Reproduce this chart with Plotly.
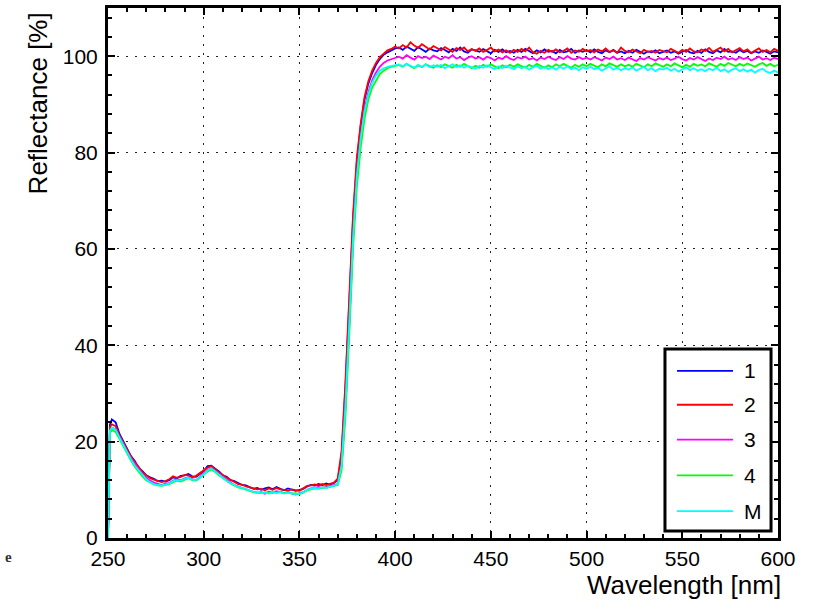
import plotly.graph_objects as go

# Wavelength grid [nm]
wavelength = [250, 251] + list(range(252, 601, 2))

series_names = ["1", "2", "3", "4", "M"]
series_colors = ["#0000ff", "#ff0000", "#ff00ff", "#00ff00", "#00ffff"]

# Reflectance [%] of each sample
refl_1 = [
    0, 23.5,
    24.6, 24.0, 21.6, 20.0, 18.6, 17.0, 16.0, 14.6, 13.9, 13.0,
    12.6, 12.3, 11.8, 11.9, 11.7, 12.0, 12.6, 12.4, 12.9, 13.0,
    13.3, 12.8, 12.7, 13.4, 13.9, 14.9, 15.0, 14.4, 13.8, 13.0,
    12.7, 12.0, 11.8, 11.4, 11.0, 10.9, 10.6, 10.2, 10.4, 10.0,
    10.3, 10.5, 10.1, 10.6, 10.2, 9.9, 10.3, 10.0, 9.8, 10.0,
    10.2, 10.7, 11.0, 10.9, 11.2, 11.0, 11.3, 11.1, 11.4, 12.0,
    17, 31, 49, 66, 78, 85.5, 91, 94.3, 96.5, 98.2, 99.4, 100.3, 100.8, 101.2, 101.6,
    101.8, 101.3, 102.0, 101.5, 101.1, 101.9, 101.4, 100.9, 101.6, 101.2,
    101.0, 101.7, 101.3, 100.8, 101.5, 101.1, 101.8, 101.0, 100.7, 101.4,
    101.2, 100.9, 101.5, 101.0, 100.6, 101.3, 100.9, 101.4, 100.8, 101.1,
    100.7, 101.3, 100.9, 101.5, 101.0, 100.6, 101.2, 100.8, 101.4, 100.9,
    101.1, 100.6, 101.3, 100.8, 101.0, 101.5, 100.7, 101.2, 100.9, 101.3,
    100.8, 101.4, 100.9, 100.6, 101.2, 100.8, 101.3, 100.7, 101.0, 100.6,
    101.1, 100.7, 101.3, 100.9, 100.5, 101.0, 100.8, 101.2, 100.6, 100.9,
    101.2, 100.7, 101.0, 100.5, 100.9, 101.3, 100.8, 100.6, 101.1, 100.7,
    101.4, 100.9, 100.6, 101.2, 100.8, 101.5, 100.9, 101.0, 100.7, 101.3,
    100.8, 101.1, 100.6, 101.0, 100.7, 101.2, 100.9, 100.5, 101.0, 100.8,
]

refl_2 = [
    0, 23.0,
    23.6, 23.2, 21.3, 19.8, 18.3, 16.9, 15.7, 14.8, 13.6, 12.9,
    12.4, 12.1, 11.9, 11.6, 11.8, 12.2, 12.8, 12.5, 12.7, 13.1,
    13.0, 12.6, 12.9, 13.5, 14.0, 14.6, 14.9, 14.2, 13.6, 13.1,
    12.5, 12.1, 11.6, 11.2, 11.1, 10.7, 10.5, 10.3, 10.1, 10.2,
    9.9, 10.3, 10.0, 10.4, 10.1, 10.0, 9.8, 10.1, 9.9, 9.8,
    10.3, 10.8, 10.9, 11.1, 10.9, 11.2, 11.0, 11.2, 11.5, 12.3,
    18, 32, 50, 67, 79, 86, 91.5, 94.8, 97, 98.6, 99.8, 100.6, 101.2, 101.5, 102.0,
    101.6, 102.3, 101.8, 102.9, 102.2, 101.7, 102.5, 101.9, 101.4, 102.1,
    101.6, 101.2, 101.9, 101.4, 100.9, 101.7, 101.3, 101.8, 101.0, 101.5,
    101.1, 101.6, 100.9, 101.3, 101.8, 101.0, 101.4, 100.8, 101.2, 100.7,
    101.3, 100.9, 101.5, 101.0, 101.8, 100.8, 100.5, 101.1, 100.7, 101.3,
    100.9, 101.4, 100.8, 101.1, 101.6, 100.7, 101.2, 100.9, 101.5, 101.0,
    101.3, 100.8, 101.4, 101.0, 101.6, 100.9, 101.2, 100.7, 101.8, 101.1,
    100.8, 101.4, 101.0, 100.6, 101.3, 100.9, 101.1, 100.7, 101.3, 101.0,
    100.8, 101.5, 101.1, 100.7, 101.3, 100.9, 101.6, 101.0, 100.8, 101.4,
    101.1, 101.7, 100.9, 101.3, 101.8, 101.0, 101.5, 100.8, 101.2, 101.7,
    101.0, 101.4, 100.7, 101.2, 101.6, 100.9, 101.3, 100.8, 101.5, 101.1,
]

refl_3 = [
    0, 22.0,
    22.8, 22.6, 21.0, 19.3, 17.9, 16.5, 15.3, 14.3, 13.2, 12.5,
    11.9, 11.5, 11.2, 11.0, 11.3, 11.4, 11.9, 12.1, 12.0, 12.4,
    12.6, 12.2, 12.0, 12.7, 13.3, 14.1, 14.5, 13.9, 13.3, 12.6,
    12.0, 11.5, 11.0, 10.7, 10.5, 10.1, 9.9, 9.6, 9.4, 9.5,
    9.2, 9.6, 9.4, 9.7, 9.5, 9.3, 9.5, 9.2, 9.0, 9.3,
    9.5, 10.0, 10.3, 10.4, 10.6, 10.4, 10.6, 10.7, 10.9, 11.2,
    15, 27, 44, 62, 75, 83, 89, 92.5, 95, 96.6, 97.8, 98.6, 99.1, 99.4, 99.6,
    99.9, 99.5, 100.2, 99.7, 99.3, 100.0, 99.6, 99.9, 99.4, 100.1,
    99.7, 99.3, 99.9, 99.6, 100.2, 99.5, 99.8, 99.2, 99.7, 100.0,
    99.5, 99.8, 99.3, 99.9, 99.6, 99.1, 99.7, 99.4, 100.0, 99.5,
    99.2, 99.8, 99.5, 99.9, 99.3, 99.6, 99.1, 99.7, 99.4, 99.9,
    99.5, 99.2, 99.8, 99.4, 100.0, 99.5, 99.3, 99.8, 99.4, 99.7,
    99.3, 99.8, 99.5, 99.1, 99.7, 99.4, 99.9, 99.3, 99.6, 99.2,
    99.7, 99.4, 99.0, 99.6, 99.3, 99.8, 99.5, 99.1, 99.6, 99.3,
    99.7, 99.2, 99.5, 99.9, 99.4, 99.1, 99.6, 99.3, 99.8, 99.4,
    99.0, 99.5, 99.2, 99.7, 99.4, 99.9, 99.3, 99.6, 99.2, 99.8,
    99.4, 99.7, 99.1, 99.5, 99.9, 99.3, 99.6, 99.2, 99.7, 99.4,
]

refl_4 = [
    0, 21.8,
    22.4, 22.0, 20.6, 19.0, 17.4, 16.1, 14.8, 13.7, 12.8, 12.0,
    11.5, 11.1, 10.9, 10.8, 11.0, 11.2, 11.6, 11.9, 11.7, 12.1,
    12.4, 12.0, 11.9, 12.5, 13.1, 13.8, 14.2, 13.7, 13.0, 12.4,
    11.8, 11.3, 10.9, 10.5, 10.3, 10.0, 9.8, 9.5, 9.4, 9.3,
    9.5, 9.3, 9.6, 9.4, 9.6, 9.3, 9.4, 9.2, 9.3, 9.1,
    9.4, 9.9, 10.1, 10.3, 10.2, 10.5, 10.4, 10.6, 10.7, 11.0,
    14, 25, 42, 60, 73, 81, 87, 91, 93.5, 95, 96.3, 97, 97.5, 97.8, 98.0,
    98.2, 97.8, 98.4, 97.9, 97.5, 98.1, 97.7, 98.3, 97.9, 97.6,
    98.1, 97.7, 98.3, 98.0, 97.6, 98.2, 97.8, 98.4, 97.9, 97.5,
    98.0, 97.6, 98.2, 97.8, 98.3, 97.9, 97.5, 98.1, 97.7, 98.2,
    97.8, 98.3, 97.9, 97.6, 98.2, 97.8, 98.4, 98.0, 97.6, 98.1,
    97.7, 98.3, 97.9, 98.4, 98.0, 97.6, 98.2, 97.8, 98.3, 97.9,
    98.4, 98.0, 97.7, 98.3, 97.9, 98.5, 98.1, 97.8, 98.3, 97.9,
    98.2, 97.8, 98.4, 98.0, 97.7, 98.3, 97.9, 98.5, 98.1, 97.8,
    98.3, 97.9, 98.5, 98.1, 97.7, 98.2, 97.8, 98.4, 98.0, 98.3,
    97.9, 98.5, 98.1, 97.8, 98.4, 98.0, 98.6, 98.2, 97.9, 98.4,
    98.0, 98.5, 98.1, 97.8, 98.3, 98.6, 98.0, 98.4, 97.9, 98.2,
]

refl_m = [
    0, 22.3,
    22.9, 22.5, 20.8, 19.2, 17.6, 16.3, 15.0, 14.0, 13.0, 12.2,
    11.6, 11.2, 11.0, 10.9, 11.1, 11.3, 11.8, 12.0, 11.9, 12.3,
    12.5, 12.1, 12.0, 12.6, 13.2, 14.0, 14.4, 13.8, 13.1, 12.5,
    11.9, 11.4, 11.0, 10.6, 10.4, 10.1, 9.8, 9.6, 9.4, 9.3,
    9.4, 9.2, 9.5, 9.3, 9.5, 9.2, 9.4, 9.3, 9.1, 9.2,
    9.5, 10.0, 10.2, 10.4, 10.3, 10.5, 10.4, 10.6, 10.8, 11.1,
    15, 27, 44, 62, 75, 83, 88.5, 92, 94.5, 96, 97, 97.5, 97.8, 98.0, 98.2,
    98.3, 97.9, 98.4, 98.0, 97.6, 98.2, 97.8, 98.3, 97.7, 98.1,
    97.8, 98.2, 97.5, 97.9, 98.3, 97.7, 98.1, 97.6, 98.0, 97.7,
    97.4, 98.0, 97.6, 98.1, 97.7, 97.3, 97.9, 97.5, 98.0, 97.6,
    97.3, 97.9, 97.5, 97.8, 97.2, 97.7, 98.0, 97.4, 97.8, 97.3,
    97.7, 97.2, 97.8, 97.4, 97.9, 97.3, 97.6, 97.1, 97.7, 97.4,
    97.8, 97.3, 97.6, 97.0, 97.5, 97.9, 97.2, 97.6, 97.1, 97.5,
    97.2, 97.7, 97.0, 97.4, 97.8, 97.1, 97.5, 96.9, 97.4, 97.2,
    97.6, 97.0, 97.4, 96.8, 97.3, 97.7, 97.1, 97.5, 97.0, 97.3,
    96.9, 97.4, 97.1, 97.6, 96.9, 97.3, 96.7, 97.2, 97.5, 96.9,
    97.3, 96.8, 97.2, 96.6, 97.1, 97.4, 96.8, 96.5, 97.0, 96.6,
]

series_values = [refl_1, refl_2, refl_3, refl_4, refl_m]
for vals in series_values:
    assert len(vals) == len(wavelength)

x_ticks = [250, 300, 350, 400, 450, 500, 550, 600]
y_ticks = [0, 20, 40, 60, 80, 100]

FONT = "Liberation Sans, Arial, Helvetica, sans-serif"

fig = go.Figure()
for name, color, vals in zip(series_names, series_colors, series_values):
    fig.add_trace(go.Scatter(
        x=wavelength, y=vals, mode="lines", name=name,
        line=dict(color=color, width=1.8), showlegend=False,
    ))

axis_common = dict(
    showline=True, linewidth=3, linecolor="black", mirror="allticks",
    ticks="inside", ticklen=7, tickwidth=2, tickcolor="black",
    showgrid=True, gridcolor="#222222", gridwidth=1.2, griddash="2px,7px",
    zeroline=False, tickfont=dict(family=FONT, size=21, color="black"),
)

fig.update_xaxes(
    range=[250, 600], tickmode="array", tickvals=x_ticks,
    minor=dict(dtick=10, tick0=250, ticks="inside", ticklen=4,
               tickwidth=2, tickcolor="black", showgrid=False),
    **axis_common,
)
fig.update_yaxes(
    range=[0, 110], tickmode="array", tickvals=y_ticks,
    ticklabelstandoff=3,
    minor=dict(dtick=4, tick0=0, ticks="inside", ticklen=4,
               tickwidth=2, tickcolor="black", showgrid=False),
    **axis_common,
)

# Hand-built legend box in the lower right corner
shapes = [dict(type="rect", xref="paper", yref="paper",
               x0=0.8313, x1=0.9896, y0=0.0131, y1=0.3565,
               line=dict(color="black", width=3), fillcolor="white",
               layer="above")]
annotations = []
row_y = [0.3152, 0.2514, 0.1857, 0.1182, 0.0507]
for name, color, yy in zip(series_names, series_colors, row_y):
    shapes.append(dict(type="line", xref="paper", yref="paper",
                       x0=0.8493, x1=0.9328, y0=yy, y1=yy,
                       line=dict(color=color, width=1.8), layer="above"))
    annotations.append(dict(text=name, xref="paper", yref="paper",
                            x=0.9463, y=yy, xanchor="left", yanchor="middle",
                            showarrow=False,
                            font=dict(family=FONT, size=21, color="black")))

annotations += [
    dict(text="Wavelength [nm]", xref="paper", yref="paper",
         x=1.0075, y=-0.088, xanchor="right", yanchor="middle",
         showarrow=False, font=dict(family=FONT, size=26, color="black")),
    dict(text="Reflectance [%]", xref="paper", yref="paper",
         x=-0.1045, y=0.82, xanchor="center", yanchor="middle",
         textangle=-90, showarrow=False,
         font=dict(family=FONT, size=26, color="black")),
    dict(text="<b>e</b>", xref="paper", yref="paper",
         x=-0.149, y=-0.0356, xanchor="center", yanchor="middle",
         showarrow=False,
         font=dict(family="Liberation Serif, serif", size=15, color="#333333")),
]

fig.update_layout(
    width=816, height=604,
    margin=dict(l=108, r=38, t=5, b=66, pad=0),
    paper_bgcolor="white", plot_bgcolor="white",
    shapes=shapes, annotations=annotations,
    showlegend=False,
)

fig.write_html("out.html")
